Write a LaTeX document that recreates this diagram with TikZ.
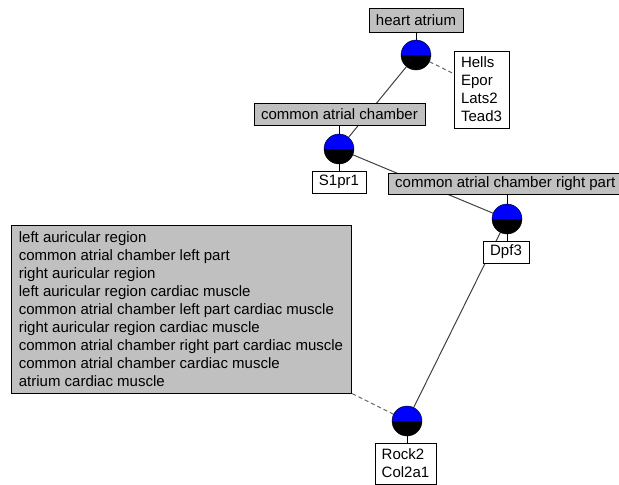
\documentclass[tikz,border=0pt]{standalone}
\usepackage{fontspec}
\setmainfont{Liberation Sans}
\usetikzlibrary{backgrounds}
\definecolor{termgray}{RGB}{192,192,192}

\begin{document}
\begin{tikzpicture}[x=1pt,y=-1pt,
  term/.style={draw=black,fill=termgray,font=\fontsize{15}{18}\selectfont,inner xsep=7pt,inner ysep=0pt,minimum height=22pt},
  gene/.style={draw=black,fill=white,font=\fontsize{15}{18}\selectfont,align=left,inner xsep=7pt,inner ysep=0pt,minimum height=22pt},
  ball/.style={circle,draw=black,minimum size=30pt,inner sep=0pt,
    path picture={\fill[blue] (path picture bounding box.north west) rectangle (path picture bounding box.east);
                  \fill[black] (path picture bounding box.west) rectangle (path picture bounding box.south east);}},
  link/.style={draw=black!75,line width=1pt},
  dashlink/.style={draw=black!60,line width=1pt,dash pattern=on 4pt off 3pt},
  tick/.style={draw=black,line width=1pt}]
\useasboundingbox (0,0) rectangle (619,485);
% terms and genes
\node[term,minimum height=24pt] (atrium) at (416,20) {heart atrium};
\node[ball] (b1) at (416,55) {};
\node[gene,minimum height=77pt] (g1) at (481.5,89.5) {Hells\\Epor\\Lats2\\Tead3};
\node[term] (cac) at (339.5,114) {common atrial chamber};
\node[ball] (b2) at (339,149) {};
\node[gene] (g2) at (339,182) {S1pr1};
\node[term,anchor=west,minimum height=21.5pt] (rpart) at (388,183.5) {common atrial chamber right part};
\node[ball] (b3) at (507,219) {};
\node[gene] (g3) at (506,252) {Dpf3};
\node[term,align=left,inner xsep=8pt,minimum height=168pt] (sub) at (181,309) {left auricular region\\common atrial chamber left part\\right auricular region\\left auricular region cardiac muscle\\common atrial chamber left part cardiac muscle\\right auricular region cardiac muscle\\common atrial chamber right part cardiac muscle\\common atrial chamber cardiac muscle\\atrium cardiac muscle};
\node[ball] (b4) at (407,421) {};
\node[gene,minimum height=41pt] (g4) at (405.5,463.5) {Rock2\\Col2a1};
% connectors
\begin{scope}[on background layer]
\draw[link] (b1) -- (b2);
\draw[link] (b2) -- (b3);
\draw[link] (b3) -- (b4);
\draw[tick] (b1.north) -- (b1.north |- atrium.south);
\draw[tick] (b2.north) -- (b2.north |- cac.south);
\draw[tick] (b2.south) -- (b2.south |- g2.north);
\draw[tick] (b3.north) -- (b3.north |- rpart.south);
\draw[tick] (b3.south) -- (b3.south |- g3.north);
\draw[tick] (b4.south) -- (b4.south |- g4.north);
\draw[dashlink] (b1) -- ([yshift=-23pt]g1.north west);
\draw[dashlink] (b4) -- (sub.south east);
\end{scope}
\end{tikzpicture}
\end{document}
